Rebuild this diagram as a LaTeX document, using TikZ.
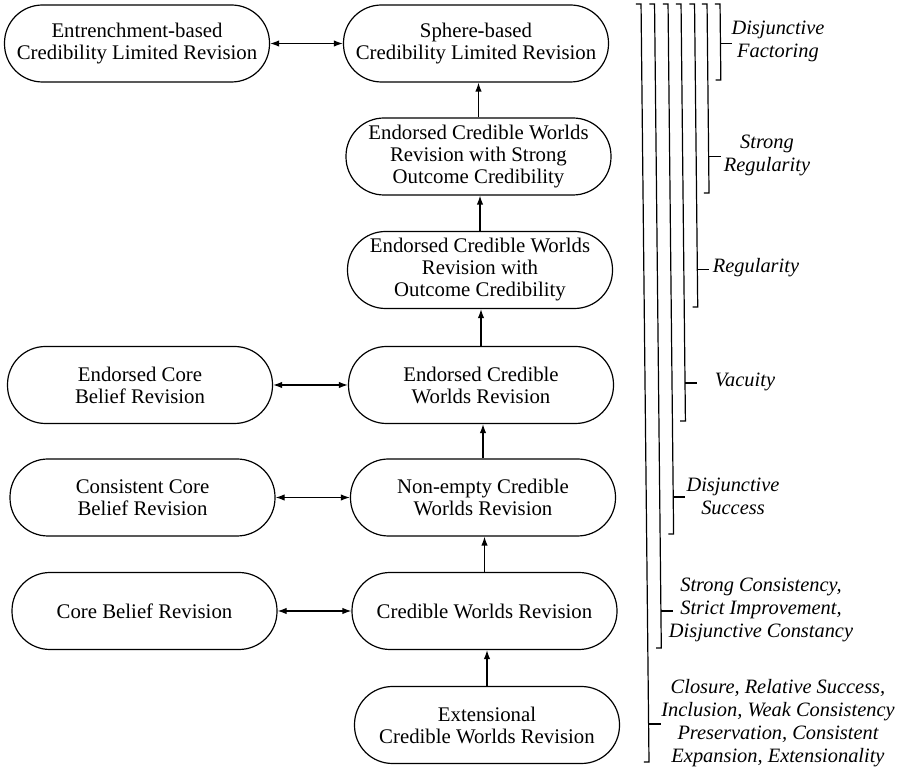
\documentclass[tikz,border=0pt]{standalone}
\usepackage{fontspec}
\setmainfont{Liberation Serif}
\usetikzlibrary{arrows.meta}
\tikzset{
  box/.style={draw, line width=0.6pt, rounded corners=19pt, minimum width=132.5pt,
    minimum height=38.5pt, inner sep=0pt, align=center,
    font=\fontsize{10.4}{11}\selectfont},
  lab/.style={align=center, inner sep=0pt, font=\fontsize{10.2}{11.5}\selectfont\itshape},
  uparrow/.style={-{Latex[length=4.5pt,width=3.2pt]}, line width=0.6pt},
  bothways/.style={{Latex[length=4.5pt,width=3.2pt]}-{Latex[length=4.5pt,width=3.2pt]}, line width=0.6pt},
  brk/.style={line width=0.6pt}
}
\begin{document}
\begin{tikzpicture}[x=0.5pt,y=-0.5pt]
\useasboundingbox (0,0) rectangle (900,769);
% nodes
\node[box] (ecl) at (137,43.5) {Entrenchment-based\\Credibility Limited Revision};
\node[box] (scl) at (476,43.5) {Sphere-based\\Credibility Limited Revision};
\node[box] (soc) at (478.5,156.5) {Endorsed Credible Worlds\\Revision with Strong\\Outcome Credibility};
\node[box] (oc) at (480,270) {Endorsed Credible Worlds\\Revision with\\Outcome Credibility};
\node[box] (ecw) at (481,385) {Endorsed Credible\\Worlds Revision};
\node[box] (ecb) at (140,385) {Endorsed Core\\Belief Revision};
\node[box] (ncw) at (483,497.5) {Non-empty Credible\\Worlds Revision};
\node[box] (ccb) at (142.5,497.5) {Consistent Core\\Belief Revision};
\node[box] (cw) at (484.5,611) {Credible Worlds Revision};
\node[box] (cb) at (144.5,611) {Core Belief Revision};
\node[box] (ext) at (487,725) {Extensional\\Credible Worlds Revision};
% arrows
\draw[bothways] (ecl) -- (scl);
\draw[bothways] (ecb) -- (ecw);
\draw[bothways] (ccb) -- (ncw);
\draw[bothways] (cb) -- (cw);
\draw[uparrow] (soc.north) -- (soc.north |- scl.south);
\draw[uparrow] (oc.north) -- (oc.north |- soc.south);
\draw[uparrow] (ecw.north) -- (ecw.north |- oc.south);
\draw[uparrow] (ncw.north) -- (ncw.north |- ecw.south);
\draw[uparrow] (cw.north) -- (cw.north |- ncw.south);
\draw[uparrow] (ext.north) -- (ext.north |- cw.south);
% brackets
\foreach \xt/\yb/\ym/\n in {720/80/43.5/1, 707/193/156.5/2, 694.5/307/269.5/3, 681/421/383/4,
    668/534/497/5, 654.5/648/611/6, 641/762/724/7} {
  \coordinate (bt\n) at ({\xt+4*0.0105},4);
  \coordinate (bb\n) at ({\xt+\yb*0.0105},\yb);
  \coordinate (bm\n) at ({\xt+\ym*0.0105},\ym);
  \coordinate (be\n) at ({\xt+\ym*0.0105+12},\ym);
  \draw[brk] ([xshift=-2.6pt]bt\n) -- (bt\n) -- (bb\n) -- ([xshift=-2.6pt]bb\n);
  \draw[brk] (bm\n) -- (be\n);
}
% labels
\node[lab] (l1) at (778,41) {Disjunctive\\Factoring};
\node[lab] (l2) at (767,155) {Strong\\Regularity};
\node[lab] (l3) at (756,268) {Regularity};
\node[lab] (l4) at (745,382) {Vacuity};
\node[lab] (l5) at (733,496) {Disjunctive\\Success};
\node[lab] (l6) at (761,610) {Strong Consistency,\\Strict Improvement,\\Disjunctive Constancy};
\node[lab] (l7) at (778,723) {Closure, Relative Success,\\Inclusion, Weak Consistency\\Preservation, Consistent\\Expansion, Extensionality};
\end{tikzpicture}
\end{document}
